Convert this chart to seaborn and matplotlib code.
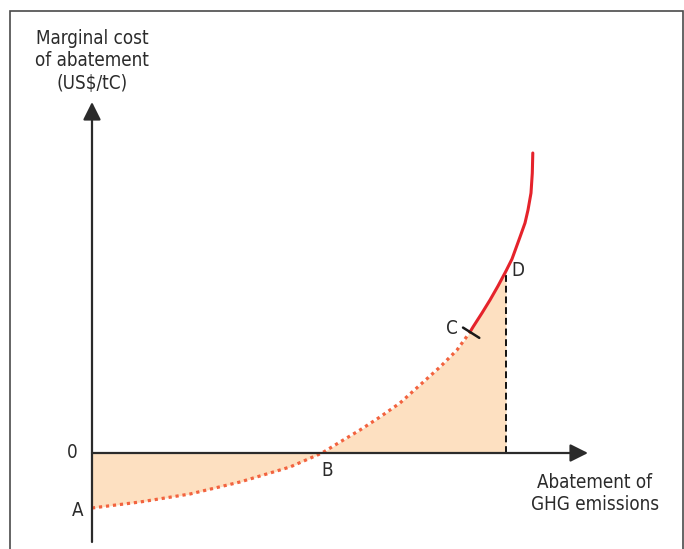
import numpy as np
import pandas as pd
import seaborn as sns
import matplotlib.pyplot as plt
import matplotlib.patches as mpatches

sns.set_style("white")
plt.rcParams['font.family'] = ['DejaVu Sans']

# curve (abatement, marginal cost), arbitrary units
dotted_x = [0, 48, 98, 148, 198, 230, 248, 268, 288, 308, 328, 348, 365, 378]
dotted_y = [-55, -49, -41, -29, -14, 0, 11, 23, 36, 50, 68, 86, 103, 121]
solid_x = [378, 381, 390, 398, 406, 414, 420, 428, 433, 436, 439, 440.3, 440.8]
solid_y = [121, 126, 140, 153, 167, 182, 194, 216, 230, 243, 260, 280, 300]

point_labels = ['0', 'A', 'B', 'C', 'D']

RED = '#e5232b'
DOT = '#f2633f'
FILL = '#fde0c1'
INK = '#2b2b2b'

dotted = pd.DataFrame({'x': dotted_x, 'y': dotted_y})
solid = pd.DataFrame({'x': solid_x, 'y': solid_y})

fig = plt.figure(figsize=(6.84, 5.49), dpi=100)
ax = fig.add_axes([0, 0, 1, 1])
ax.set_xlim(-92, 592)
ax.set_ylim(-96, 453)
ax.axis('off')

# shaded area under the curve up to D
fx = np.array(dotted_x + solid_x[1:6])
fy = np.array(dotted_y + solid_y[1:6])
ax.fill_between(fx, fy, 0, color=FILL, lw=0, zorder=1)
x_d, y_d = solid_x[5], solid_y[5]
ax.plot([x_d, x_d], [0, y_d], color='#111111', lw=1.4, ls=(0, (3.5, 2)), zorder=3)

sns.lineplot(data=dotted, x='x', y='y', ax=ax, color=DOT, lw=2.3,
             linestyle=(0, (1, 1.2)), zorder=4)
sns.lineplot(data=solid, x='x', y='y', ax=ax, color=RED, lw=2.2, zorder=4)

# axes arrows
arrow_kw = dict(arrowstyle='-|>,head_length=0.9,head_width=0.45', color=INK,
                lw=1.6, shrinkA=0, shrinkB=0, mutation_scale=12)
ax.annotate('', xy=(496, 0), xytext=(0, 0), arrowprops=arrow_kw, zorder=5)
ax.annotate('', xy=(0, 351), xytext=(0, -89), arrowprops=arrow_kw, zorder=5)

# tick mark at C, perpendicular to curve
cx, cy = dotted_x[-1], dotted_y[-1]
dx, dy = solid_x[2] - cx, solid_y[2] - cy
n = np.hypot(dx, dy)
px, py = dy / n * 11, -dx / n * 11
ax.plot([cx - px * 0.75, cx + px], [cy - py * 0.75, cy + py], color='#1a1a1a', lw=1.8, zorder=5)

fs = 13.5
tkw = dict(ha='center', va='center', fontsize=fs, color=INK, fontstretch='condensed')
ax.text(-20, 1, point_labels[0], **tkw)
ax.text(-14, -57, point_labels[1], **tkw)
ax.text(235, -17, point_labels[2], **tkw)
ax.text(360, 124, point_labels[3], **tkw)
ax.text(426, 182, point_labels[4], **tkw)

ax.text(0, 392, 'Marginal cost\nof abatement\n(US$/tC)', linespacing=1.2, **tkw)
ax.text(503, -41, 'Abatement of\nGHG emissions', linespacing=1.2, **tkw)

# outer frame
frame = mpatches.Rectangle((10 / 684, -0.05), 673 / 684, 1.05 - 11 / 549,
                           transform=fig.transFigure, fill=False,
                           edgecolor='#4a4a4a', lw=1.2)
fig.add_artist(frame)

fig.savefig('out.png', dpi=100)
